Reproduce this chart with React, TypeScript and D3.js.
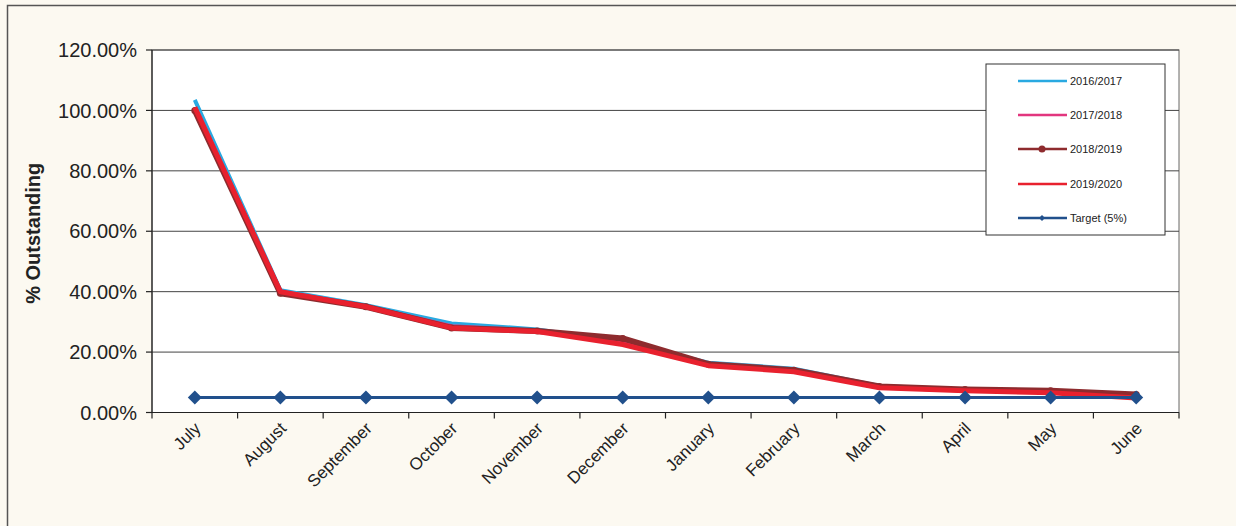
import React from "react";
import * as d3 from "d3";

const months = ["July", "August", "September", "October", "November", "December", "January", "February", "March", "April", "May", "June"];
const yTicks = [0, 20, 40, 60, 80, 100, 120];

const s2016 = [103.5, 40.5, 35.5, 29.5, 27.5, 23.5, 16.5, 14.5, 8.8, 7.6, 7.0, 5.8];
const s2017 = [101, 40, 35, 28.5, 27, 23, 16, 14, 8.5, 7.5, 6.8, 5.5];
const s2018 = [100, 39.5, 35, 28, 27, 24.5, 16, 14, 8.6, 7.6, 7.2, 6.0];
const s2019 = [101, 40, 35, 28, 26.8, 22.5, 15.5, 13.5, 8.2, 7.2, 6.5, 4.8];
const target = [5, 5, 5, 5, 5, 5, 5, 5, 5, 5, 5, 5];

const series = [
  { name: "2016/2017", values: s2016, color: "#29a9e1", width: 4, marker: "none" },
  { name: "2017/2018", values: s2017, color: "#e2367e", width: 4.5, marker: "none" },
  { name: "2018/2019", values: s2018, color: "#8e2b2e", width: 6, marker: "circle" },
  { name: "2019/2020", values: s2019, color: "#e8212e", width: 5, marker: "none" },
  { name: "Target (5%)", values: target, color: "#21508c", width: 3, marker: "diamond" },
];

const W = 1236;
const H = 526;
const plot = { left: 152, right: 1179, top: 50, bottom: 412.5 };
const font = "'Liberation Sans', Arial, sans-serif";

// square diamond path with given half-width
const diamondPath = (r: number) => `M0,${-r}L${r},0L0,${r}L${-r},0Z`;

export default function App() {
  const x = d3.scaleBand<string>().domain(months).range([plot.left, plot.right]).padding(0);
  const y = d3.scaleLinear().domain([0, 120]).range([plot.bottom, plot.top]);
  const cx = (m: string) => (x(m) as number) + x.bandwidth() / 2;
  const line = d3
    .line<number>()
    .x((_, i) => cx(months[i]))
    .y((v) => y(v));

  const legendY = [81, 115, 149, 184, 218];

  return (
    <svg
      width={W}
      height={H}
      style={{ position: "absolute", left: 0, top: 0, display: "block" }}
    >
      <rect x={0} y={0} width={W} height={H} fill="#fcf9f1" />
      <rect x={7.5} y={5.5} width={W + 10} height={H + 10} fill="none" stroke="#555" strokeWidth={1.5} />
      <rect
        x={plot.left}
        y={plot.top}
        width={plot.right - plot.left}
        height={plot.bottom - plot.top}
        fill="#ffffff"
        stroke="#666"
        strokeWidth={1}
      />
      {/* gridlines */}
      {yTicks.map((t) => (
        <line key={`g${t}`} x1={plot.left} x2={plot.right} y1={y(t)} y2={y(t)} stroke="#444" strokeWidth={1} />
      ))}
      {/* y axis */}
      <line x1={plot.left} x2={plot.left} y1={plot.top} y2={plot.bottom} stroke="#222" strokeWidth={1.2} />
      {yTicks.map((t) => (
        <g key={`yt${t}`}>
          <line x1={plot.left - 6} x2={plot.left} y1={y(t)} y2={y(t)} stroke="#222" strokeWidth={1.2} />
          <text
            x={137}
            y={y(t)}
            dy="0.36em"
            textAnchor="end"
            fontFamily={font}
            fontSize={20}
            fill="#222"
          >
            {d3.format(".2f")(t) + "%"}
          </text>
        </g>
      ))}
      <text
        transform={`translate(40,${(plot.top + plot.bottom) / 2 + 2}) rotate(-90)`}
        textAnchor="middle"
        fontFamily={font}
        fontSize={20}
        fontWeight="bold"
        fill="#222"
      >
        % Outstanding
      </text>
      {/* x axis */}
      <line x1={plot.left} x2={plot.right} y1={plot.bottom} y2={plot.bottom} stroke="#222" strokeWidth={1.2} />
      {months.map((m) => (
        <line
          key={`xt${m}`}
          x1={x(m) as number}
          x2={x(m) as number}
          y1={plot.bottom}
          y2={plot.bottom + 6}
          stroke="#222"
          strokeWidth={1.2}
        />
      ))}
      <line x1={plot.right} x2={plot.right} y1={plot.bottom} y2={plot.bottom + 6} stroke="#222" strokeWidth={1.2} />
      {months.map((m) => (
        <text
          key={`xl${m}`}
          transform={`translate(${cx(m) + 7},${plot.bottom + 17}) rotate(-45)`}
          textAnchor="end"
          fontFamily={font}
          fontSize={17}
          fill="#222"
        >
          {m}
        </text>
      ))}
      {/* series */}
      {series.map((s) => (
        <g key={s.name}>
          <path d={line(s.values) as string} fill="none" stroke={s.color} strokeWidth={s.width} strokeLinejoin="round" />
          {s.marker === "circle" &&
            s.values.map((v, i) => (
              <circle key={i} cx={cx(months[i])} cy={y(v)} r={3.5} fill={s.color} />
            ))}
          {s.marker === "diamond" &&
            s.values.map((v, i) => (
              <path key={i} d={diamondPath(7)} transform={`translate(${cx(months[i])},${y(v)})`} fill={s.color} />
            ))}
        </g>
      ))}
      {/* legend */}
      <rect x={986} y={64} width={179} height={171} fill="#ffffff" stroke="#333" strokeWidth={1} />
      {series.map((s, i) => (
        <g key={`lg${s.name}`}>
          <line x1={1018} x2={1067} y1={legendY[i]} y2={legendY[i]} stroke={s.color} strokeWidth={2.5} />
          {s.marker === "circle" && <circle cx={1042} cy={legendY[i]} r={3.5} fill={s.color} />}
          {s.marker === "diamond" && (
            <path d={diamondPath(3)} transform={`translate(1042,${legendY[i]})`} fill={s.color} />
          )}
          <text x={1070} y={legendY[i]} dy="0.35em" fontFamily={font} fontSize={11} fill="#222">
            {s.name}
          </text>
        </g>
      ))}
    </svg>
  );
}
